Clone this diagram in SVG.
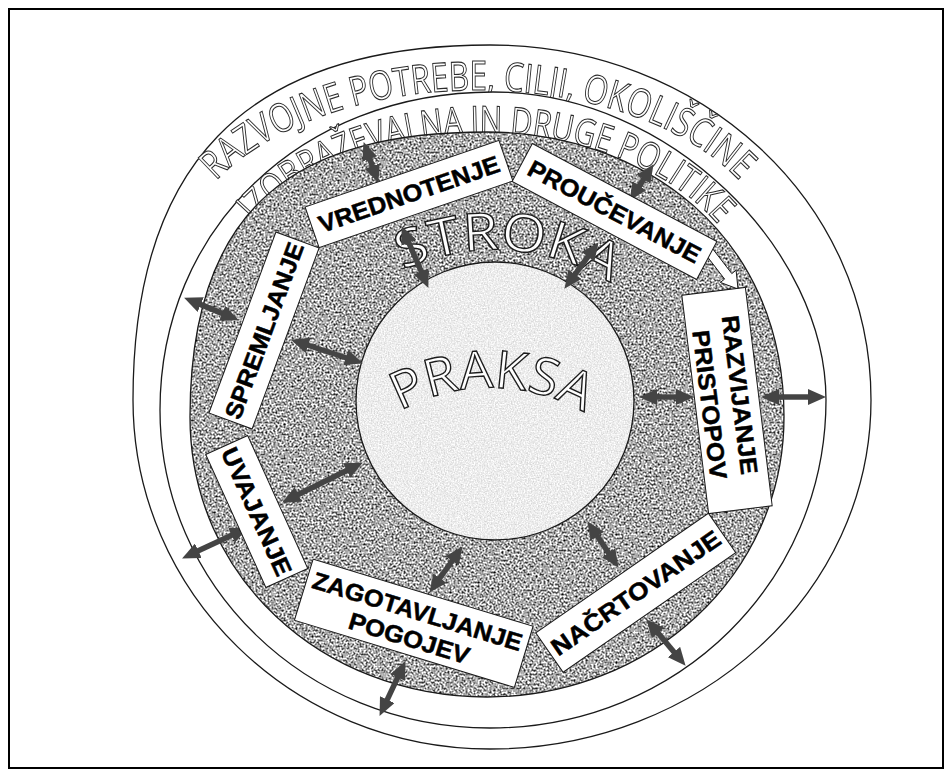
<svg xmlns="http://www.w3.org/2000/svg" width="952" height="776" viewBox="0 0 952 776">
<defs>
<style>
.frame{fill:#fff;stroke:#000;stroke-width:2}
.ring{fill:#fff;stroke:#1a1a1a;stroke-width:1.3}
.edge{fill:none;stroke:#1a1a1a;stroke-width:1.3}
.box{fill:#fff;stroke:#1a1a1a;stroke-width:1}
.lbl{font-family:"Liberation Sans",Arial,sans-serif;font-weight:bold;font-size:24px;fill:#000;stroke:#000;stroke-width:0.5;text-anchor:middle}
.arc{font-family:"Open Sans","DejaVu Sans",sans-serif;fill:#fff;stroke:#2a2a2a;stroke-width:1.1;opacity:0.99}
.big{font-family:"Open Sans","DejaVu Sans",sans-serif;fill:#fff;stroke:#1a1a1a;stroke-width:1.4;font-size:52px;opacity:0.99}
.arr{stroke:#444;stroke-width:5.5;fill:none;marker-start:url(#ah);marker-end:url(#ah)}
</style>
<marker id="ah" viewBox="0 0 18 16" markerWidth="18" markerHeight="16" markerUnits="userSpaceOnUse" refX="9" refY="8" orient="auto-start-reverse"><path d="M0,0 L18,8 L0,16 z" fill="#444"/></marker>
<filter id="granite" x="0" y="0" width="1" height="1" color-interpolation-filters="sRGB">
<feTurbulence type="fractalNoise" baseFrequency="0.5" numOctaves="3" seed="7" result="noise"/>
<feColorMatrix in="noise" type="matrix" values="1 0 0 0 0 1 0 0 0 0 1 0 0 0 0 0 0 0 0 1" result="g"/>
<feComponentTransfer in="g" result="c">
<feFuncR type="linear" slope="2.0" intercept="-0.33"/>
<feFuncG type="linear" slope="2.0" intercept="-0.33"/>
<feFuncB type="linear" slope="2.0" intercept="-0.33"/>
</feComponentTransfer>
<feComposite in="c" in2="SourceAlpha" operator="in"/>
</filter>
<filter id="light" x="0" y="0" width="1" height="1" color-interpolation-filters="sRGB">
<feTurbulence type="fractalNoise" baseFrequency="0.7" numOctaves="3" seed="3" result="noise"/>
<feColorMatrix in="noise" type="matrix" values="1 0 0 0 0 1 0 0 0 0 1 0 0 0 0 0 0 0 0 1" result="g"/>
<feComponentTransfer in="g" result="c">
<feFuncR type="linear" slope="0.3" intercept="0.78"/>
<feFuncG type="linear" slope="0.3" intercept="0.78"/>
<feFuncB type="linear" slope="0.3" intercept="0.78"/>
</feComponentTransfer>
<feComposite in="c" in2="SourceAlpha" operator="in"/>
</filter>
<path id="pOuter" d="M216,181 A300,177 0 0 1 740,181"/>
<path id="pInner" d="M254,222 A270,184 0 0 1 716,222"/>
<path id="pStroka" d="M403,270 A218.4,218.4 0 0 1 610,283"/>
<path id="pPraksa" d="M400,411 A188.5,188.5 0 0 1 588,415"/>
<path id="grayShape" d="M487,132 C640,132 784,232 784,417 C784,575 650,697 487,697 C320,697 190,575 190,417 C190,202 300,132 487,132 Z"/>
</defs>

<rect class="frame" x="9" y="9" width="934" height="759"/>

<g id="outer-ring">
<path class="ring" d="M490,45 C700,45 871,200 871,400 C871,593 700,749 490,749 C293,749 133,593 133,400 C133,170 240,45 490,45 Z"/>
<text class="arc" font-size="40"><textPath href="#pOuter" textLength="568" lengthAdjust="spacingAndGlyphs">RAZVOJNE POTREBE, CILJI, OKOLIŠČINE</textPath></text>
</g>

<g id="middle-ring">
<path class="ring" d="M493,92 C670,92 826,250 826,400 C826,580 680,728 490,728 C305,728 160,585 160,410 C160,230 300,92 493,92 Z"/>
<text class="arc" font-size="38"><textPath href="#pInner" textLength="512" lengthAdjust="spacingAndGlyphs">IZOBRAŽEVALNA IN DRUGE POLITIKE</textPath></text>
</g>

<g id="stroka">
<use href="#grayShape" fill="#999" filter="url(#granite)"/>
<use href="#grayShape" class="edge"/>
<text class="big"><textPath href="#pStroka" textLength="216" lengthAdjust="spacingAndGlyphs">STROKA</textPath></text>
</g>

<g id="praksa">
<circle cx="495" cy="401" r="139" fill="#eee" filter="url(#light)"/>
<circle class="edge" cx="495" cy="401" r="139"/>
<text class="big"><textPath href="#pPraksa" textLength="192" lengthAdjust="spacingAndGlyphs">PRAKSA</textPath></text>
</g>

<g id="connectors">
<line class="arr" x1="366.7" y1="150.5" x2="375.3" y2="174.5"/>
<line class="arr" x1="648.6" y1="171.7" x2="634.4" y2="193.3"/>
<line class="arr" x1="405.2" y1="234.3" x2="424.8" y2="279.7"/>
<line class="arr" x1="593.3" y1="249.4" x2="569.7" y2="281.6"/>
<line class="arr" x1="192.4" y1="301.1" x2="230.6" y2="316.9"/>
<line class="arr" x1="299.6" y1="342.5" x2="354.4" y2="360.5"/>
<line class="arr" x1="290.2" y1="498.5" x2="354.8" y2="466.5"/>
<line class="arr" x1="190.2" y1="554.6" x2="239.8" y2="531.4"/>
<line class="arr" x1="434.6" y1="585.5" x2="457.4" y2="553.5"/>
<line class="arr" x1="383.4" y1="707.8" x2="401.6" y2="669.2"/>
<line class="arr" x1="592.4" y1="528.7" x2="613.6" y2="560.3"/>
<line class="arr" x1="652.2" y1="626.1" x2="679.8" y2="658.9"/>
<line class="arr" x1="648" y1="397" x2="685" y2="397"/>
<line class="arr" x1="770" y1="397" x2="817" y2="397"/>
<polygon points="697.4,243.8 724.6,279.1 720.3,282.4 738,289 736.1,270.2 731.8,273.6 704.6,238.3" fill="#fff" stroke="#1a1a1a" stroke-width="1"/>
</g>

<g id="vrednotenje" transform="translate(409,194) rotate(-19)">
<rect class="box" x="-102.5" y="-21.5" width="205" height="43"/>
<text class="lbl" x="0" y="8.5" textLength="190" lengthAdjust="spacingAndGlyphs">VREDNOTENJE</text>
</g>

<g id="proucevanje" transform="translate(614.5,211.5) rotate(28)">
<rect class="box" x="-104.5" y="-21.5" width="209" height="43"/>
<text class="lbl" x="0" y="8.5" textLength="192" lengthAdjust="spacingAndGlyphs">PROUČEVANJE</text>
</g>

<g id="razvijanje-pristopov" transform="translate(727,400.5) rotate(83)">
<rect class="box" x="-110" y="-32" width="220" height="64"/>
<text class="lbl" x="-4" y="-5" font-size="25" textLength="160" lengthAdjust="spacingAndGlyphs">RAZVIJANJE</text>
<text class="lbl" x="2" y="26" font-size="25" textLength="150" lengthAdjust="spacingAndGlyphs">PRISTOPOV</text>
</g>

<g id="nacrtovanje" transform="translate(635.75,592.75) rotate(-34.7)">
<rect class="box" x="-105" y="-24" width="210" height="48"/>
<text class="lbl" x="0" y="8.5" textLength="200" lengthAdjust="spacingAndGlyphs">NAČRTOVANJE</text>
</g>

<g id="zagotavljanje-pogojev" transform="translate(413.75,623.25) rotate(17)">
<rect class="box" x="-115" y="-32" width="230" height="64"/>
<text class="lbl" x="0" y="-4" textLength="218" lengthAdjust="spacingAndGlyphs">ZAGOTAVLJANJE</text>
<text class="lbl" x="0" y="24" textLength="125" lengthAdjust="spacingAndGlyphs">POGOJEV</text>
</g>

<g id="uvajanje" transform="translate(256.75,511.5) rotate(65.7)">
<rect class="box" x="-73" y="-23" width="146" height="46"/>
<text class="lbl" x="0" y="8.5" textLength="138" lengthAdjust="spacingAndGlyphs">UVAJANJE</text>
</g>

<g id="spremljanje" transform="translate(264,330.5) rotate(-69.7)">
<rect class="box" x="-96.5" y="-23" width="193" height="46"/>
<text class="lbl" x="0" y="8.5" textLength="186" lengthAdjust="spacingAndGlyphs">SPREMLJANJE</text>
</g>
</svg>
